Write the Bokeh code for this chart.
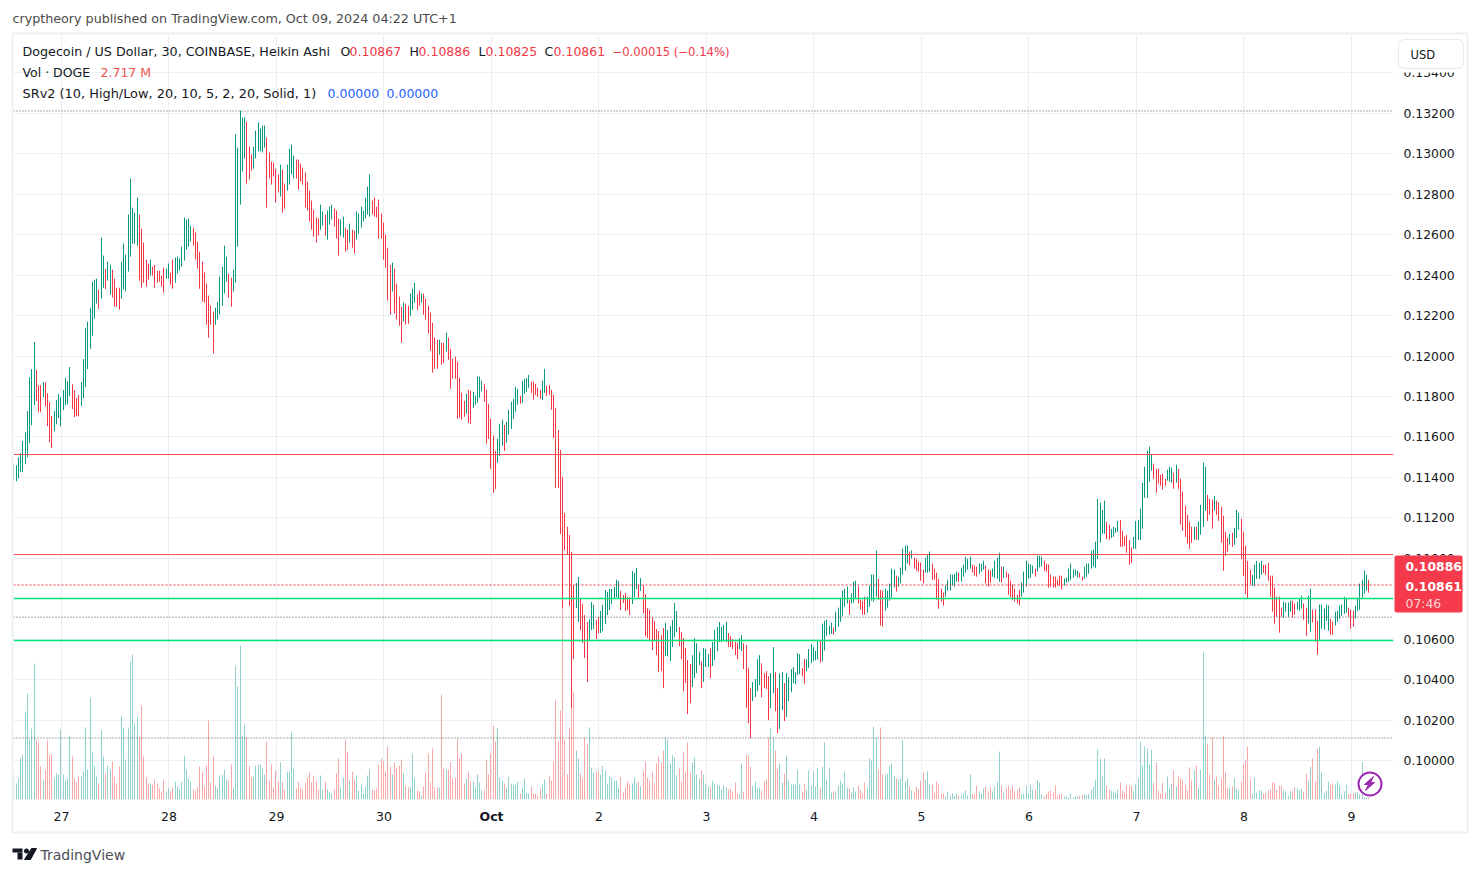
from bokeh.plotting import figure
from bokeh.models import (Range1d, FixedTicker, NumeralTickFormatter, Span, Label, GridBox,
                          BoxAnnotation, PolyAnnotation, ColumnDataSource)
from bokeh.embed import file_html
from bokeh.resources import INLINE
import math

# Heikin Ashi 30-minute bars, price x 1e5
high_a = [11465,11460,11500,11520,11580,11624,11728,11896,11936,12069,11931,11856,11856,11871,11871,11817,11772,11703,11728,11782,11812,11797,11832,11891,11876,11946,11861,11832,11792,11807,11871,11985]
low_a = [11386,11381,11396,11426,11426,11465,11500,11570,11658,11757,11777,11723,11723,11797,11752,11653,11574,11545,11629,11663,11693,11653,11733,11757,11762,11802,11738,11698,11703,11703,11752,11792]
up_a = "1111111111"+"000"+"1"+"0000"+"11111111"+"0000"+"11"

high_b = [12140,12170,12239,12368,12378,12383,12328,12586,12497,12432,12467,12452,12427,12383,12338,12338,12467,12556,12502,12700,12878,12734,12710,12784,12700,12630,12561,12477,12457,12477,12442,12452,12422,12422,12398,12437,12432,12457,12412,12477,12487,12492,12482,12541,12685,12675,12680,12645,12635,12611,12566,12516,12467,12413,12359,12299,12249,12220,12239,12269,12393,12442,12546,12492,12408,12388,12428,13096,13031,13214,13180,13180,13160,13036]
low_b = [11847,11936,12036,12101,12185,12259,12234,12284,12338,12333,12373,12304,12289,12244,12244,12230,12284,12328,12319,12418,12492,12556,12556,12546,12373,12338,12363,12343,12378,12398,12398,12338,12363,12368,12343,12314,12383,12383,12353,12333,12363,12408,12423,12442,12472,12526,12541,12566,12546,12477,12432,12333,12269,12264,12155,12091,12155,12012,12155,12180,12205,12249,12309,12368,12289,12244,12319,12363,12541,12749,12913,12977,12853,12873]
up_b = "111111"+"0"+"11"+"0"+"11"+"0000"+"11111111"+"00000"+"1"+"000000"+"11"+"00"+"11111111"+"0000000000"+"111111"+"00"+"111111"+"00"

high_c = [12997,13036,13115,13155,13125,13140,13140,13081,13007,12962,12957,12927,12898,12947,12922,12853,12947,13026,13046,12992,12972,12972,12952,12932,12908,12863,12818,12769,12724,12685,12680,12749,12715,12700,12720,12739,12749,12729,12720,12680,12675,12690,12635,12625,12655,12625,12620,12715,12705,12739,12720,12784,12838,12898,12769,12784,12739,12774,12705,12660,12601,12536,12452,12462,12432,12358,12294,12244,12264,12259,12249,12309,12333,12363,12304,12324,12309,12309,12284,12249,12215,12165,12091,12081,12081,12066,12066,12116,12091,12036,11987,11997,11972,11893,11819,11779,11814,11833,11829,11824,11804,11898,11898,11878,11863,11833,11764,11690,11606,11532,11591]
low_c = [12917,12927,12977,13012,13012,13007,13031,12734,12878,12848,12888,12759,12809,12789,12710,12729,12818,12848,12898,12878,12878,12823,12863,12848,12734,12720,12665,12625,12591,12561,12596,12625,12645,12596,12576,12650,12675,12640,12581,12497,12596,12586,12517,12526,12561,12536,12507,12576,12606,12635,12665,12680,12700,12690,12700,12690,12685,12581,12581,12477,12437,12274,12205,12319,12210,12180,12150,12066,12170,12155,12160,12200,12229,12264,12229,12249,12264,12205,12180,12111,12026,11918,11937,11937,12007,11957,11967,12022,11982,11838,11888,11888,11690,11695,11685,11700,11715,11670,11665,11744,11759,11769,11794,11824,11774,11566,11590,11442,11324,11343,11472]
up_c = "0"+"1"+"11111"+"000000"+"1"+"00"+"1111"+"00000000000"+"11"+"0"+"111"+"000"+"11"+"00"+"1"+"00"+"1111111"+"000000000"+"1"+"0000"+"1"+"00"+"111"+"00"+"1"+"0000000"+"1"+"00"+"1"+"00000000"+"1"+"00"+"11111"+"000000"+"1"

high_d = [11665,11685,11660,11675,11734,11774,11788,11848,11838,11803,11878,11887,11892,11907,11873,11873,11863,11843,11833,11878,11937,11853,11858,11833,11808,11744,11635,11536,11403,11224,11156,11115,11031,10868,10878,10907,10799,10774,10719,10685,10699,10784,10769,10695,10709,10739,10769,10843,10833,10848,10848,10858,10893,10888,10838,10818,10828,10808,10808,10937,10927,10952,10868,10902,10868,10823,10754,10744,10709,10689,10650,10640,10620,10655,10680,10645,10665,10695,10779,10739,10660,10635,10606,10556,10497,10477]
low_d = [11506,11556,11531,11571,11610,11640,11689,11724,11759,11764,11769,11813,11823,11843,11818,11784,11808,11798,11788,11784,11818,11803,11808,11734,11595,11348,11348,11120,10754,11041,11021,10764,10259,10502,10754,10685,10645,10581,10506,10388,10596,10645,10650,10600,10630,10630,10640,10675,10719,10744,10774,10803,10808,10803,10744,10779,10739,10744,10719,10774,10808,10848,10799,10838,10729,10615,10605,10595,10546,10595,10521,10437,10442,10358,10516,10516,10492,10561,10610,10635,10566,10501,10343,10383,10229,10284]
up_d = "11"+"0"+"111111"+"0"+"1111"+"00000"+"11"+"0000000000000"+"11"+"0000"+"111"+"00"+"111111111"+"00000"+"111"+"0"+"1"+"0000000000"+"111111"+"000000"

high_e = [10521,10605,10580,10536,10491,10556,10551,10526,10556,10586,10645,10660,10685,10660,10670,10685,10630,10615,10600,10586,10580,10605,10620,10580,10571,10457,10358,10388,10403,10501,10521,10481,10432,10442,10417,10432,10561,10437,10358,10432,10437,10383,10432,10412,10452,10462,10437,10531,10526,10457,10501,10501,10551,10576,10561,10541,10591]
low_e = [10363,10407,10432,10472,10358,10388,10462,10462,10407,10467,10497,10541,10586,10586,10590,10586,10561,10561,10551,10521,10501,10551,10541,10452,10259,10185,10110,10294,10313,10343,10373,10313,10358,10353,10199,10259,10333,10243,10135,10155,10249,10195,10214,10294,10338,10383,10378,10422,10427,10417,10378,10442,10457,10482,10492,10496,10501]
up_e = "1111"+"0"+"111"+"0"+"1111111"+"00000"+"11"+"0000"+"1111"+"0000"+"11"+"00"+"11"+"0"+"1111111"+"00"+"111111"

high_f = [10595,10677,10691,10696,10667,10681,10657,10736,10756,10805,10840,10850,10860,10795,10825,10885,10889,10860,10795,10790,10810,10810,10865,10919,10919,11038,10899,10845,10840,10850,10840,10875,10949,10944,10914,10909,10954,11048,11063,11063,11033,11038,11003,10998,10984,10979,10944,11003,11018,11033,10974,10949,10929,10899,10850,10830,10865,10894,10919,10919,10924,10934,10929,10954,10969,11008,10998,11008,10969,10964,10959,10974,10974,10988,10964,10944,10939,10949,10988,11003,11028,10959,10959,10934,10924,10889,10870,10850,10820,10845,10880,10934,10988,10974,10969,10964,10949,11013,11013,11008,10988,10974,10969,10919,10909,10909,10894,10914,10914,10899,10904,10949,10974,10944,10944,10939,10929,10909,10959,10974,10974,11038,11043,11082]
low_f = [10485,10490,10544,10617,10622,10627,10622,10637,10662,10686,10716,10761,10776,10721,10776,10781,10800,10776,10746,10721,10721,10731,10761,10790,10786,10810,10795,10667,10662,10741,10756,10790,10805,10855,10835,10860,10875,10919,10939,10974,10964,10998,10949,10939,10934,10889,10875,10929,10929,10934,10894,10894,10795,10751,10786,10766,10810,10840,10840,10865,10860,10884,10884,10884,10909,10929,10944,10949,10929,10914,10909,10924,10934,10944,10875,10860,10880,10909,10904,10899,10884,10880,10904,10904,10820,10810,10795,10786,10776,10766,10810,10830,10860,10899,10904,10924,10909,10934,10954,10959,10939,10934,10855,10860,10855,10855,10865,10865,10845,10865,10880,10884,10894,10904,10914,10904,10904,10889,10899,10909,10924,10949,10959,10953]
up_f = "0"+"11111"+"0"+"111111"+"0"+"111"+"0000"+"11111"+"000"+"11111"+"0"+"11111"+"0"+"1"+"00000"+"111"+"000000"+"111111"+"0"+"11111"+"000"+"111"+"000"+"1111"+"0"+"1"+"0000000"+"111111"+"0"+"111"+"000000000"+"1111111"+"00"+"111111"

high_g = [11294,11275,11240,11285,11181,11166,11146,11156,11151,11185,11190,11136,11106,11116,11091,11052,11106,11185,11190,11245,11374,11453,11532,11552,11512,11468,11443,11443,11413,11418,11393,11438,11453,11448,11423,11463,11443,11393,11329,11260,11215,11181,11156,11156,11156,11181,11265,11473,11453,11314,11294,11289,11309,11285,11275,11255,11210,11131,11101,11121,11126,11151,11240,11225,11195,11131,11062,10987,10943,10918,10968,10987,10978,10987,10968,10968,10978]
low_g = [10997,11077,11121,11121,11096,11091,11101,11106,11126,11131,11057,11057,11062,11027,10968,10978,11047,11047,11091,11091,11146,11299,11299,11379,11433,11393,11324,11369,11359,11339,11359,11384,11379,11374,11344,11374,11344,11166,11136,11106,11072,11047,11077,11091,11091,11091,11116,11156,11235,11185,11215,11146,11235,11215,11185,11077,10938,11012,11032,11067,11057,11067,11101,11141,10997,10913,10824,10799,10874,10864,10864,10898,10898,10918,10928,10918,10888]
up_g = "1111"+"00"+"1111"+"000000"+"111111111"+"000000"+"111"+"0"+"1"+"0000000"+"1"+"0"+"1111"+"000"+"1"+"000000"+"1"+"0"+"111"+"00000"+"11111"+"000"

high_h = [10914,10914,10855,10810,10810,10756,10785,10781,10781,10790,10790,10776,10785,10800,10815,10776,10756,10815,10850,10746,10746,10691,10771,10771,10751,10771,10766,10701,10686,10736,10741,10766,10771,10810,10800,10756,10746,10741,10766,10805,10875,10894,10939,10919,10894]
low_h = [10810,10736,10677,10711,10632,10711,10706,10736,10711,10736,10706,10721,10746,10741,10751,10696,10617,10677,10637,10682,10587,10523,10597,10652,10647,10691,10642,10622,10622,10667,10686,10701,10716,10726,10731,10711,10652,10662,10701,10741,10746,10805,10825,10840,10830]
up_h = "000000"+"1111"+"00"+"111"+"00"+"11"+"000"+"11111"+"00"+"111111"+"000"+"111111"+"0"

high = high_a + high_b + high_c + high_d + high_e + high_f + high_g + high_h
low = low_a + low_b + low_c + low_d + low_e + low_f + low_g + low_h
up = up_a + up_b + up_c + up_d + up_e + up_f + up_g + up_h

# Volume, millions
vol_a = [25,16,21,41,45,88,106,60,71,136,60,57,33,19,30,59,45,45,21,26,25,70,25,19,21,64,43,21,17,23,23,28,72,30,102,48,34,23,16,69,43,26,34,31,38,23,16,33,84,72,40,71,138,145,76,83,62,94,43,22,16,16,15,20,16,11,8,20,8,11,8,12,18,13,10,18,44,30,21,18,10,9,12,33,28,13,34,79,17,44,14,11,24,25,30,20,19,35,12,134,113,154,63,75,62,33,23,23,34,35,35,31,25,58,19,35,12,29,18,37,18,10,28,28,67,31,11,18,12,10,17,22,27,17,24,18,10,24,10,18,10,7,6,10,26,41,12,22,60,48,20,28,20,24,9,15,6,13,24,30,10,9,11,35,41,39,28,53,33,25,37,32,34,40,26,14,12,13,46,21,9,8,4,13,27,46,17,51,12,12,12,105,31,30,30,37,21,22,61,41,46,16,21,28,18,18,12,25]
vol_b = [17,9,9,40,25,46,74,58,71,22,19,16,12,23,16,15,15,18,6,12,21,7,6,13,6,6,4,11,16,20,6,23,19,38,99,58,89,191,59,25,72,168,108,49,41,26,21,62,56,72,32,27,28,28,25,34,29,16,24,22,19,19,12,23,7,12,18,15,16,22,16,18,13,28,38,22,19,27,16,36,43,37,49,62,60,36,44,42,24,31,18,47,27,57,27,37,42,25,21,29,25,16,13,13,19,16,14,14,10,14,12,10,11,8,17,6,5,36,8,45,44,33,14,18,11,12,9,18,20,62,71,62,49,30,36,17,26,44,19,15,16,15,30,15,8,16,10,29,14,29,13,31,11,33,57,20,31,7,8,8,14,19,16,28,12,11,7,12,8,14,10,6,17,11,41,39,73,62,30,72,25,25,26,33,36,24,21,20,21,59,18,21,13,9,8,13,10,19,27,20]
vol_c = [28,15,15,7,18,15,6,6,3,8,4,6,3,6,4,4,6,9,4,25,6,5,14,8,6,11,13,8,12,8,13,18,48,14,7,11,14,10,14,8,9,12,5,6,14,6,15,10,10,19,17,5,3,6,8,9,7,14,3,5,6,3,3,2,6,2,3,3,4,4,5,4,5,10,13,20,50,41,24,41,14,10,9,8,7,10,17,9,7,15,14,14,8,16,21,58,34,53,51,35,50,17,37,9,6,17,7,23,11,16,29,13,24,21,20,15,9,32,19,29,34,11,30,147,64,56,25,62,20,23,14,21,63,28,11,12,13,21,11,10,18,35,39,53,20,6,22,7,9,9,6,6,9,10,17,17,10,14,14,9,8,4,8,8,12,11,9,11,8,26,19,33,41,18,51,53,27,6,9,18,15,16,15,18,14,5,8,15,5,6,6,7,7,5,37,2,2,2]
vol = vol_a + vol_b + vol_c

tick_labels = ["27", "28", "29", "30", "", "2", "3", "4", "5", "6", "7", "8", "9"]
price_ticks = [0.100, 0.102, 0.104, 0.106, 0.108, 0.110, 0.112, 0.114, 0.116, 0.118, 0.120, 0.122, 0.124, 0.126, 0.128, 0.130, 0.132, 0.134]
res_levels = [0.115133, 0.110188]
sup_levels = [0.108012, 0.105935]
dot_levels = [0.13212, 0.10709, 0.10111]
last_dot = 0.10868

GREEN, RED, VGREEN, VRED = "#089981", "#f23645", "#92d2cc", "#f7a9a7"
FONT = "DejaVu Sans"
W, H = 1475, 870
FL, FR, FT, FB = 13, 1393, 34, 799      # frame edges on the page
X0, X1 = -0.4, 615.8
scale = (FR - FL) / (X1 - X0)
n = len(high)
# pull each bar onto a whole pixel column, as the original renderer does
xs = [math.floor((i - X0) * scale) / scale + X0 for i in range(n)]
day_ticks = [21 + 48 * k for k in range(13)]

p = figure(width=W, height=H, output_backend="svg", toolbar_location=None,
           x_range=Range1d(X0, X1), y_range=Range1d(0.098071, 0.135904),
           y_axis_location="right", min_border_left=FL, min_border_right=W - FR,
           min_border_top=FT, min_border_bottom=H - FB, outline_line_color=None,
           frame_align=False)
p.extra_y_ranges = {"vol": Range1d(0, 765)}

p.xgrid.ticker = FixedTicker(ticks=day_ticks)
p.ygrid.ticker = FixedTicker(ticks=price_ticks)
p.xgrid.grid_line_color = "#eceef3"
p.ygrid.grid_line_color = "#eceef3"

ax = p.xaxis[0]
ax.ticker = FixedTicker(ticks=day_ticks)
ax.major_label_overrides = {t: l for t, l in zip(day_ticks, tick_labels)}
ax.axis_line_color = None
ax.major_tick_line_color = None
ax.minor_tick_line_color = None
ax.major_label_text_font = FONT
ax.major_label_text_font_size = "12.5px"
ax.major_label_text_color = "#131722"
ax.major_label_standoff = 6

ay = p.yaxis[0]
ay.ticker = FixedTicker(ticks=price_ticks)
ay.formatter = NumeralTickFormatter(format="0.00000")
ay.axis_line_color = None
ay.major_tick_line_color = None
ay.minor_tick_line_color = None
ay.major_label_text_font = FONT
ay.major_label_text_font_size = "12.4px"
ay.major_label_text_color = "#131722"
ay.major_label_standoff = 4

vsrc = ColumnDataSource(dict(x=xs, y0=[0] * n, y1=vol,
                             c=[VGREEN if u == "1" else VRED for u in up]))
p.segment("x", "y0", "x", "y1", source=vsrc, color="c", line_width=1, y_range_name="vol")

src = ColumnDataSource(dict(x=xs, lo=[v / 1e5 for v in low], hi=[v / 1e5 for v in high],
                            c=[GREEN if u == "1" else RED for u in up]))
p.segment("x", "lo", "x", "hi", source=src, color="c", line_width=1)

for v in res_levels:
    p.add_layout(Span(location=v, dimension="width", line_color="#ff5252", line_width=1))
for v in sup_levels:
    p.add_layout(Span(location=v, dimension="width", line_color="#00e676", line_width=1.3))
for v in dot_levels:
    p.add_layout(Span(location=v, dimension="width", line_color="#555555", line_width=1, line_dash="1 2"))
p.add_layout(Span(location=last_dot, dimension="width", line_color="#f23645", line_width=1, line_dash="2 2"))

# transparent overlay whose frame is the whole page: header, footer, price tags
q = figure(width=W, height=H, output_backend="svg", toolbar_location=None,
           x_range=Range1d(0, W), y_range=Range1d(H, 0), x_axis_type=None, y_axis_type=None,
           min_border=0, outline_line_color=None, background_fill_alpha=0, border_fill_alpha=0,
           frame_align=False)


def box(l, t, r, b, **kw):
    q.add_layout(BoxAnnotation(left=l, right=r, top=t, bottom=b,
                               left_units="canvas", right_units="canvas",
                               top_units="canvas", bottom_units="canvas", **kw))


def poly(pts, color):
    q.add_layout(PolyAnnotation(xs=[a for a, _ in pts], ys=[b for _, b in pts],
                                xs_units="canvas", ys_units="canvas", fill_color=color,
                                fill_alpha=1, line_color=color, line_alpha=1))


def text(x, y, s, size=12.7, color="#131722", style="normal"):
    q.add_layout(Label(x=x, y=y, x_units="canvas", y_units="canvas", text=s,
                       text_font=FONT, text_font_size=f"{size}px", text_color=color,
                       text_baseline="middle", text_align="left", text_font_style=style))


box(12, 33, 1467, 832, fill_alpha=0, line_color="#eff0f5", line_alpha=1, line_width=2)
box(1394, 35, 1465, 72, fill_color="white", fill_alpha=1, line_alpha=0)
box(1398, 39, 1463, 68, fill_color="white", fill_alpha=1, line_color="#e8eaf0", line_alpha=1, line_width=1, border_radius=6)
box(1394, 555, 1462, 612, fill_color="#f53b4b", fill_alpha=1, line_alpha=0, border_radius=2)

text(12, 18, "cryptheory published on TradingView.com, Oct 09, 2024 04:22 UTC+1", 12.7, "#4a4a4a")
text(22, 51, "Dogecoin / US Dollar, 30, COINBASE, Heikin Ashi")
for x, s, col, size in [(340, "O", "#131722", 12.5), (349, "0.10867", RED, 12.5), (409, "H", "#131722", 12.5), (418, "0.10886", RED, 12.5),
                        (478, "L", "#131722", 12.5), (485, "0.10825", RED, 12.5), (544, "C", "#131722", 12.5), (553, "0.10861", RED, 12.5),
                        (612, "\u22120.00015 (\u22120.14%)", RED, 11.6)]:
    text(x, 51, s, size, col)
text(22, 72, "Vol \u00b7 DOGE", 12.5)
text(100, 72, "2.717 M", 12.5, "#ef5350")
text(22, 93, "SRv2 (10, High/Low, 20, 10, 5, 2, 20, Solid, 1)", 12.9)
text(327, 93, "0.00000", 12.5, "#2962ff")
text(386, 93, "0.00000", 12.5, "#2962ff")
text(1410, 54, "USD", 11.5)
text(1405, 566, "0.10886", 12.4, "#ffffff", "bold")
text(1405, 586, "0.10861", 12.4, "#ffffff", "bold")
text(1405, 603, "07:46", 12.4, "#fbd5d8")
text(479, 816, "Oct", 12.5, "#131722", "bold")

# lightning badge
box(1358, 772, 1381, 795, fill_color="white", fill_alpha=1, line_color="#9c27b0", line_alpha=1, line_width=2, border_radius=12)
poly([(1373, 776), (1364, 784), (1368, 784), (1365, 790), (1374, 782), (1370, 782)], "#9c27b0")

# footer logo
box(12, 848, 22, 852, fill_color="#131722", fill_alpha=1, line_alpha=0)
box(17, 852, 22, 859, fill_color="#131722", fill_alpha=1, line_alpha=0)
box(23.5, 848, 28.5, 853, fill_color="#131722", fill_alpha=1, line_alpha=0, border_radius=3)
poly([(31, 848), (36, 848), (30, 859), (24, 859)], "#131722")
text(40, 854, "TradingView", 14, "#4a4e57")

page = GridBox(children=[(p, 0, 0), (q, 0, 0)])
open("out.html", "w").write(file_html(page, INLINE))
